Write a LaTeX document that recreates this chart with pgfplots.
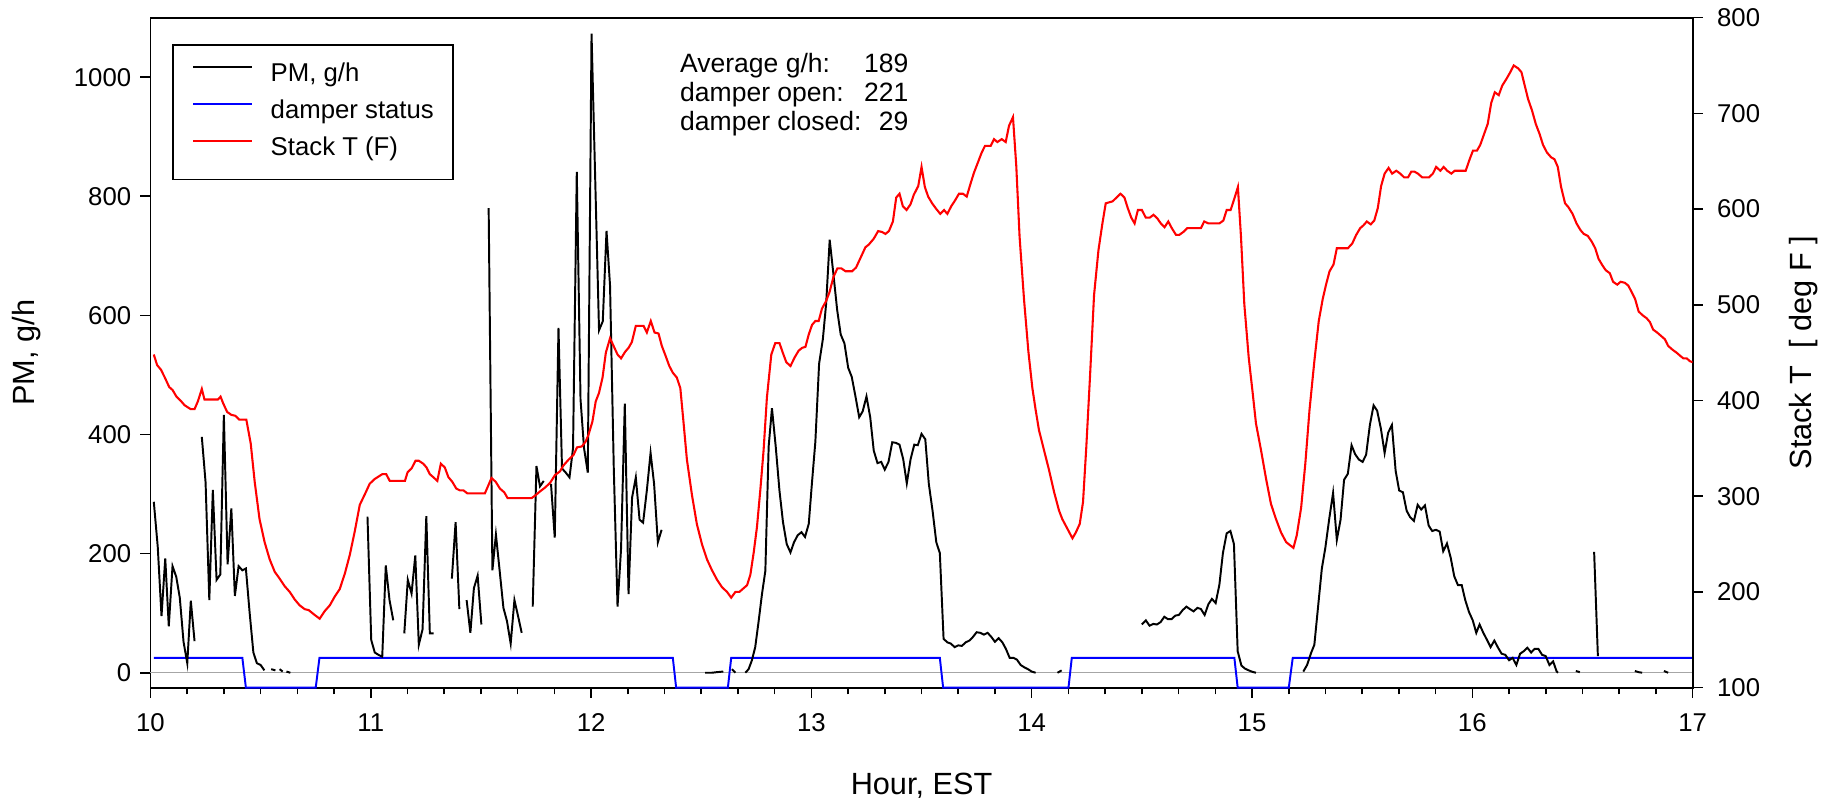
\documentclass[border=0pt]{standalone}
\usepackage{fontspec}
\setmainfont{Liberation Sans}
\usepackage{pgfplots}
\pgfplotsset{compat=1.18}
\usepackage{pgfplotstable}
\newcommand{\tickfont}{\fontsize{9.9}{11.9}\selectfont}
\newcommand{\labfont}{\fontsize{11.8}{14}\selectfont}

\pgfplotstableread{
x y
10.015 287
10.033 211
10.050 95
10.067 192
10.083 78
10.100 179
10.117 161
10.133 126
10.150 52
10.167 16
10.183 121
10.200 53
10.215 nan
10.233 396
10.250 320
10.267 122
10.283 307
10.300 156
10.317 165
10.333 433
10.350 182
10.367 276
10.383 129
10.400 179
10.417 172
10.433 175
10.450 101
10.467 34
10.483 16
10.500 13
10.517 4
10.530 nan
10.548 6
10.567 4
10.575 nan
10.586 6
10.600 2
10.608 nan
10.617 2
10.635 0
10.700 nan
10.985 262
11.002 55
11.018 34
11.035 30
11.052 27
11.068 180
11.085 122
11.102 88
11.125 nan
11.152 66
11.168 156
11.185 133
11.202 197
11.218 47
11.235 73
11.252 263
11.268 66
11.285 66
11.300 nan
11.368 158
11.385 253
11.402 107
11.420 nan
11.435 122
11.452 67
11.468 142
11.485 163
11.502 81
11.520 nan
11.535 780
11.552 172
11.568 232
11.585 171
11.602 109
11.618 87
11.635 49
11.652 122
11.668 96
11.685 67
11.700 nan
11.735 111
11.752 347
11.768 313
11.785 322
11.800 nan
11.818 317
11.835 227
11.852 579
11.868 343
11.885 336
11.902 328
11.918 377
11.935 841
11.952 459
11.968 377
11.985 336
12.002 1073
12.036 575
12.053 590
12.070 742
12.086 650
12.103 343
12.120 111
12.136 208
12.153 452
12.170 132
12.186 294
12.203 328
12.220 257
12.236 252
12.253 306
12.270 369
12.286 317
12.303 219
12.320 240
12.400 nan
12.518 0
12.548 0
12.571 1
12.600 2
12.620 nan
12.639 6
12.655 0
12.670 nan
12.700 0
12.715 6
12.730 21
12.745 43
12.761 88
12.776 133
12.791 171
12.806 380
12.821 444
12.838 380
12.855 306
12.871 253
12.888 216
12.905 202
12.921 219
12.938 231
12.955 236
12.971 228
12.988 250
13.003 321
13.018 388
13.035 519
13.052 560
13.067 620
13.083 727
13.100 669
13.117 609
13.133 568
13.150 553
13.167 512
13.183 497
13.200 464
13.217 429
13.233 439
13.250 464
13.267 429
13.283 373
13.300 352
13.317 354
13.333 341
13.350 354
13.367 387
13.383 386
13.400 383
13.417 358
13.433 318
13.450 358
13.467 383
13.483 382
13.500 401
13.517 392
13.533 317
13.550 272
13.567 219
13.583 201
13.600 57
13.617 51
13.633 49
13.650 43
13.667 46
13.683 45
13.700 51
13.717 54
13.733 60
13.750 68
13.767 67
13.783 64
13.800 67
13.817 60
13.833 52
13.850 58
13.867 51
13.883 40
13.900 25
13.917 25
13.933 22
13.950 13
13.967 9
13.983 6
14.000 2
14.018 0
14.050 nan
14.117 0
14.136 4
14.200 nan
14.500 81
14.518 88
14.535 79
14.552 82
14.568 81
14.585 85
14.602 94
14.618 90
14.635 90
14.652 96
14.668 97
14.685 105
14.702 111
14.718 107
14.735 103
14.752 109
14.768 107
14.785 97
14.802 115
14.818 124
14.835 117
14.852 148
14.868 201
14.885 234
14.902 238
14.918 216
14.935 36
14.952 12
14.968 7
14.985 4
15.002 1.5
15.018 0
15.100 nan
15.233 2
15.250 13
15.267 32
15.283 47
15.300 111
15.317 175
15.333 210
15.350 257
15.368 302
15.385 223
15.402 257
15.418 324
15.435 334
15.452 382
15.468 367
15.485 358
15.502 354
15.518 366
15.535 416
15.552 449
15.568 440
15.585 410
15.602 369
15.618 403
15.635 416
15.652 339
15.668 306
15.685 303
15.702 272
15.718 261
15.735 255
15.752 282
15.768 274
15.785 281
15.802 247
15.818 238
15.835 240
15.852 237
15.868 204
15.885 217
15.902 193
15.918 162
15.935 147
15.952 147
15.968 122
15.985 102
16.002 88
16.018 67
16.033 81
16.050 67
16.067 55
16.083 43
16.100 54
16.117 42
16.133 32
16.150 30
16.167 21
16.183 25
16.200 13
16.217 32
16.233 36
16.250 42
16.267 34
16.283 40
16.300 40
16.317 30
16.333 28
16.350 13
16.367 19
16.383 2
16.389 0
16.420 nan
16.470 3
16.488 1
16.510 nan
16.553 203
16.570 28
16.600 nan
16.738 3
16.755 1
16.771 0
16.800 nan
16.870 3
16.889 0
}\pmdata

\pgfplotstableread{
x y
10.015 25
10.417 25
10.433 -25
10.750 -25
10.767 25
12.371 25
12.386 -25
12.621 -25
12.636 25
13.583 25
13.598 -25
14.167 -25
14.182 25
14.920 25
14.935 -25
15.167 -25
15.185 25
17.000 25
}\damperdata

\pgfplotstableread{
x y
10.015 448
10.030 437
10.048 432
10.067 423
10.085 414
10.100 411
10.118 404
10.136 400
10.155 395
10.182 391
10.200 391
10.215 399
10.233 412
10.245 401
10.306 401
10.318 404
10.330 397
10.348 388
10.367 385
10.385 384
10.403 380
10.435 380
10.455 355
10.473 315
10.495 276
10.518 252
10.541 234
10.564 221
10.586 214
10.609 206
10.632 200
10.655 192
10.677 186
10.700 182
10.718 181
10.745 176
10.768 172
10.791 180
10.814 186
10.836 195
10.859 203
10.882 219
10.905 239
10.927 263
10.950 291
10.973 302
10.995 313
11.018 318
11.052 323
11.070 323
11.086 316
11.155 316
11.167 325
11.185 329
11.203 337
11.218 337
11.238 334
11.253 330
11.268 323
11.283 320
11.302 316
11.318 334
11.336 330
11.352 320
11.370 315
11.388 308
11.405 306
11.421 306
11.438 303
11.518 303
11.533 311
11.548 319
11.567 315
11.586 308
11.606 304
11.621 298
11.730 298
11.748 301
11.768 305
11.791 309
11.814 314
11.836 322
11.859 326
11.874 332
11.897 338
11.920 343
11.936 351
11.958 352
11.975 357
11.988 364
12.006 378
12.021 399
12.036 408
12.052 424
12.067 450
12.086 465
12.102 457
12.120 448
12.136 444
12.155 451
12.170 455
12.185 461
12.203 478
12.238 478
12.253 471
12.271 483
12.288 471
12.306 470
12.321 457
12.336 448
12.355 436
12.371 429
12.389 424
12.405 413
12.420 376
12.435 338
12.458 301
12.480 271
12.503 250
12.526 234
12.548 223
12.571 213
12.594 205
12.617 200
12.636 194
12.655 200
12.673 200
12.688 203
12.708 207
12.723 218
12.738 241
12.753 268
12.768 306
12.783 348
12.798 403
12.818 448
12.836 460
12.855 460
12.870 450
12.886 440
12.905 436
12.924 445
12.942 452
12.958 455
12.973 456
12.988 469
13.003 479
13.018 483
13.033 483
13.048 496
13.067 504
13.082 513
13.100 529
13.118 538
13.136 538
13.155 535
13.185 535
13.203 539
13.223 549
13.245 560
13.261 563
13.283 569
13.303 577
13.321 576
13.336 574
13.352 577
13.370 587
13.385 612
13.400 616
13.415 603
13.432 599
13.450 605
13.465 615
13.485 624
13.500 644
13.515 623
13.530 613
13.548 606
13.567 600
13.585 595
13.602 599
13.617 595
13.635 603
13.652 609
13.670 616
13.688 616
13.705 613
13.723 627
13.738 638
13.758 650
13.773 659
13.788 666
13.814 666
13.829 673
13.844 670
13.864 673
13.882 670
13.897 687
13.915 696
13.930 645
13.945 571
13.965 506
13.985 451
14.003 413
14.018 390
14.033 369
14.056 348
14.079 327
14.102 304
14.124 285
14.139 276
14.162 266
14.185 256
14.200 262
14.218 271
14.233 294
14.248 352
14.264 422
14.283 510
14.303 557
14.321 585
14.336 606
14.367 608
14.385 612
14.403 616
14.421 612
14.436 601
14.452 591
14.467 585
14.482 599
14.500 599
14.518 591
14.536 591
14.553 594
14.571 590
14.586 585
14.603 581
14.620 587
14.636 580
14.655 573
14.670 573
14.688 576
14.706 580
14.768 580
14.783 587
14.802 585
14.852 585
14.870 588
14.885 599
14.903 599
14.920 611
14.936 623
14.950 571
14.965 501
14.985 445
15.003 408
15.018 376
15.041 348
15.064 318
15.086 292
15.109 276
15.132 262
15.155 252
15.188 246
15.203 259
15.223 288
15.242 334
15.261 390
15.283 441
15.303 483
15.321 506
15.336 521
15.352 535
15.370 542
15.385 559
15.435 559
15.455 564
15.473 573
15.491 580
15.506 583
15.521 587
15.539 584
15.555 588
15.571 601
15.586 624
15.602 637
15.620 643
15.636 637
15.655 640
15.673 637
15.691 633
15.708 633
15.723 639
15.738 639
15.753 637
15.773 633
15.803 633
15.821 637
15.836 644
15.855 640
15.870 644
15.886 640
15.905 637
15.920 640
15.970 640
15.988 652
16.003 661
16.021 661
16.036 667
16.053 678
16.070 689
16.086 711
16.102 722
16.120 719
16.136 729
16.155 736
16.170 742
16.188 750
16.208 747
16.223 743
16.238 729
16.253 715
16.271 703
16.288 689
16.306 678
16.321 667
16.339 659
16.358 654
16.373 652
16.388 644
16.403 623
16.421 606
16.436 602
16.455 595
16.473 585
16.491 578
16.506 574
16.524 572
16.542 566
16.558 559
16.573 548
16.591 541
16.606 536
16.624 533
16.639 524
16.658 521
16.673 524
16.692 523
16.708 520
16.724 513
16.739 506
16.755 493
16.773 489
16.791 486
16.806 482
16.821 474
16.839 471
16.859 467
16.874 464
16.889 457
16.909 453
16.927 450
16.942 447
16.958 444
16.973 444
16.988 441
17.000 440
}\tempdata

\begin{document}
\begin{tikzpicture}
\begin{axis}[
  width=593.1pt, height=257.7pt, scale only axis,
  xmin=10, xmax=17, ymin=-25, ymax=1100,
  xtick={10,11,...,17}, minor x tick num=5,
  ytick={0,200,...,1000},
  xtick pos=left, ytick pos=left,
  tick align=outside,
  major tick length=3.9pt, minor tick length=2.6pt,
  axis line style={line width=0.75pt},
  every tick/.style={black, line width=0.6pt},
  ticklabel style={font=\tickfont},
  /pgf/number format/assume math mode=true,
  /pgf/number format/1000 sep={},
  xticklabel style={yshift=-2.5pt},
  xlabel={Hour, EST}, ylabel={PM, g/h},
  every axis x label/.style={at={(axis description cs:0.5,-0.1469)}, anchor=center, font=\labfont},
  every axis y label/.style={at={(axis description cs:-0.0801,0.5)}, anchor=center, rotate=90, font=\labfont},
  unbounded coords=jump,
  clip=false,
]
\addplot[gray!70, line width=0.45pt, forget plot] coordinates {(10,0) (17,0)};
\addplot[blue, line width=0.75pt, forget plot] table[x=x,y=y] {\damperdata};
\addplot[black, line width=0.75pt, forget plot] table[x=x,y=y] {\pmdata};
\node[anchor=west, inner sep=0pt, font=\fontsize{10.2}{11.2}\selectfont] at (axis cs:12.402,969)
  {\begin{tabular}{@{}l@{\hspace{1pt}}r@{}}Average g/h: & 189\\ damper open: & 221\\ damper closed: & 29\end{tabular}};
\coordinate (SW) at (rel axis cs:0,0);
\coordinate (NE) at (rel axis cs:1,1);
\end{axis}
\begin{axis}[
  width=593.1pt, height=257.7pt, scale only axis,
  xmin=10, xmax=17, ymin=100, ymax=800,
  axis x line=none, axis y line*=right,
  ytick={100,200,...,800},
  tick align=outside, major tick length=3.9pt,
  axis line style={line width=0.75pt},
  every tick/.style={black, line width=0.6pt},
  ticklabel style={font=\tickfont},
  /pgf/number format/assume math mode=true,
  yticklabel style={xshift=2pt},
  ylabel={Stack T\ \ [ deg F ]},
  every axis y label/.style={at={(axis description cs:1.0718,0.5)}, anchor=center, rotate=90, font=\labfont},
  legend style={at={(axis description cs:0,1)}, anchor=north west, xshift=8.4pt, yshift=-10.3pt,
    draw=black, line width=0.5pt, inner xsep=7.4pt, inner ysep=7.0pt, font=\tickfont, row sep=5.0pt,
    nodes={inner sep=0pt, text height=7.2pt, text depth=2pt}},
  legend cell align=left,
  /tikz/every odd column/.append style={column sep=6.8pt},
  legend image code/.code={\draw[#1] (0pt,3.2pt) -- (22.6pt,3.2pt);},
]
\addlegendimage{black, line width=0.75pt}
\addlegendentry{PM, g/h}
\addlegendimage{blue, line width=0.75pt}
\addlegendentry{damper status}
\addplot[red, line width=0.8pt] table[x=x,y=y] {\tempdata};
\addlegendentry{Stack T (F)}
\end{axis}
\pgfresetboundingbox
\path ([shift={(-57.88pt,-44.77pt)}]SW) rectangle ([shift={(57.85pt,6.77pt)}]NE);
\end{tikzpicture}
\end{document}
